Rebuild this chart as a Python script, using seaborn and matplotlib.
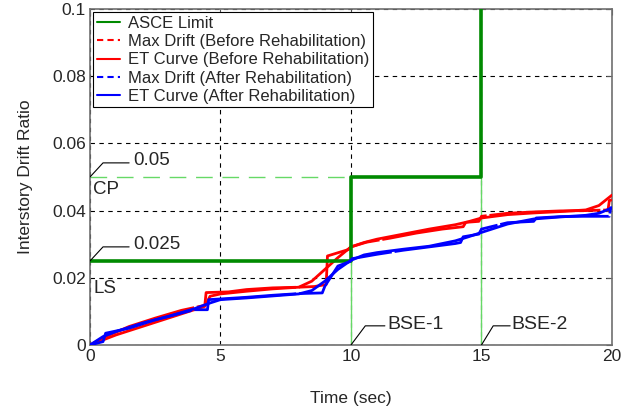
import numpy as np
import pandas as pd
import matplotlib
matplotlib.use("Agg")
import matplotlib.pyplot as plt
import seaborn as sns

# ASCE limit step (Time, drift)
asce_t = [0, 10, 10, 15, 15]
asce_v = [0.025, 0.025, 0.05, 0.05, 0.1]

# Before rehabilitation: ET curve
et_before_t = [0, 1, 2, 3, 4, 4.4, 4.6, 5, 6, 7, 8, 8.5, 9, 9.5, 10, 10.5, 11,
               12, 13, 14, 14.5, 15, 16, 17, 18, 19, 19.5, 20]
et_before_v = [0, 0.003, 0.0055, 0.008, 0.0105, 0.0115, 0.0145, 0.0152, 0.016,
               0.0167, 0.0172, 0.019, 0.0225, 0.026, 0.0292, 0.0305, 0.0315,
               0.033, 0.0345, 0.0358, 0.0367, 0.0378, 0.0388, 0.0393, 0.0397,
               0.0402, 0.0415, 0.0446]

# Before rehabilitation: max drift
md_before_t = [0, 0.6, 1.5, 2.5, 3.5, 4.4, 4.45, 5.3, 6.0, 7.0, 8.0, 8.6, 9.05,
               9.1, 9.9, 10.0, 10.6, 11.5, 12.5, 13.5, 14.3, 14.4, 14.9, 15.0,
               16.0, 17.0, 18.0, 19.0, 19.85, 19.9, 20.0]
md_before_v = [0, 0.0025, 0.0055, 0.008, 0.0103, 0.0118, 0.0156, 0.0158,
               0.0165, 0.017, 0.0172, 0.0174, 0.018, 0.0265, 0.0284, 0.0292,
               0.0306, 0.0318, 0.0333, 0.0345, 0.0352, 0.0365, 0.0368, 0.0383,
               0.0392, 0.0396, 0.0399, 0.04, 0.0402, 0.043, 0.0432]

# After rehabilitation: ET curve
et_after_t = [0, 0.5, 1, 2, 3, 4, 4.6, 5, 6, 7, 8, 8.5, 9, 9.5, 10, 10.5, 11,
              12, 13, 14, 14.5, 15, 16, 17, 18, 19, 19.5, 20]
et_after_v = [0, 0.0025, 0.004, 0.0065, 0.0085, 0.0108, 0.0125, 0.0135, 0.014,
              0.0146, 0.0152, 0.0162, 0.019, 0.0225, 0.0252, 0.0268, 0.0275,
              0.0285, 0.0294, 0.031, 0.0322, 0.0335, 0.036, 0.0375, 0.0381,
              0.0386, 0.0392, 0.0408]

# After rehabilitation: max drift
md_after_t = [0, 0.5, 0.6, 1.5, 2.5, 3.5, 4.0, 4.5, 4.55, 5.0, 6.0, 7.0, 8.0,
              8.9, 9.0, 9.5, 9.95, 10.05, 11, 12, 13, 14.0, 14.2, 14.3, 14.9,
              15.0, 16.0, 17.0, 17.1, 18.0, 18.9, 19.9, 19.95, 20]
md_after_v = [0, 0.001, 0.0035, 0.005, 0.0075, 0.0095, 0.0105, 0.0105, 0.0135,
              0.0137, 0.0142, 0.0148, 0.0153, 0.0155, 0.0175, 0.0235, 0.0248,
              0.0257, 0.027, 0.0282, 0.0292, 0.0302, 0.0305, 0.0322, 0.033,
              0.0345, 0.0364, 0.0368, 0.0378, 0.0382, 0.0383, 0.0383, 0.0408,
              0.041]

x_ticks = [0, 5, 10, 15, 20]
y_ticks = [0, 0.02, 0.04, 0.06, 0.08, 0.1]
y_tick_labels = ["0", "0.02", "0.04", "0.06", "0.08", "0.1"]

sns.set_style("white")
plt.rcParams["font.family"] = ["Liberation Sans", "DejaVu Sans"]
plt.rcParams["font.size"] = 12.5

fig = plt.figure(figsize=(6.27, 4.11), dpi=100)
ax = fig.add_axes([0.1435, 0.1606, 0.8325, 0.8175])

GREEN = "#008a00"
LIGHT = "#66d966"

# reference guide lines
ax.plot([0, 10], [0.05, 0.05], color=LIGHT, lw=1, dashes=(12, 7), zorder=2)
ax.plot([10, 10], [0, 0.025], color=LIGHT, lw=1, zorder=2)
ax.plot([15, 15], [0, 0.05], color=LIGHT, lw=1, zorder=2)


def draw(t, v, color, label, ls="-", lw=2.0, z=3):
    df = pd.DataFrame({"Time": t, "Drift": v})
    sns.lineplot(data=df, x="Time", y="Drift", color=color, lw=lw,
                 linestyle=ls, estimator=None, sort=False, ax=ax,
                 label=label, zorder=z)


draw(asce_t, asce_v, GREEN, "ASCE Limit", lw=2.6, z=4)
draw(md_before_t, md_before_v, "red", "Max Drift (Before Rehabilitation)",
     ls=(0, (40, 1)), lw=2.0)
draw(et_before_t, et_before_v, "red", "ET Curve (Before Rehabilitation)", lw=2.0)
draw(md_after_t, md_after_v, "blue", "Max Drift (After Rehabilitation)",
     ls=(0, (40, 1)), lw=2.0, z=5)
draw(et_after_t, et_after_v, "blue", "ET Curve (After Rehabilitation)", lw=2.0, z=5)

ax.set_xlim(0, 20)
ax.set_ylim(0, 0.1)
ax.set_xticks(x_ticks)
ax.set_xticklabels([str(x) for x in x_ticks])
ax.set_yticks(y_ticks)
ax.set_yticklabels(y_tick_labels)
ax.grid(True, color="black", linestyle=(0, (4, 4)), lw=0.8)
ax.set_axisbelow(True)
ax.tick_params(direction="in", length=4, color="#555555", labelsize=12.5,
               top=True, right=True, pad=3)
for s in ax.spines.values():
    s.set_color("#707070")
    s.set_linewidth(1.2)

ax.set_xlabel("Time (sec)", fontsize=12.5, labelpad=19)
ax.set_ylabel("Interstory Drift Ratio", fontsize=12.5, labelpad=14)

# annotations with leader lines
lk = dict(color="black", lw=0.8, zorder=6)
ax.plot([0, 0.5, 1.5], [0.05, 0.0542, 0.0542], **lk)
ax.text(1.65, 0.0548, "0.05", va="center", ha="left", fontsize=13.5)
ax.plot([0, 0.5, 1.5], [0.025, 0.0292, 0.0292], **lk)
ax.text(1.65, 0.0298, "0.025", va="center", ha="left", fontsize=13.5)
ax.text(0.12, 0.0462, "CP", va="center", ha="left", fontsize=13.5)
ax.text(0.12, 0.0168, "LS", va="center", ha="left", fontsize=13.5)
ax.plot([10, 10.55, 11.3], [0, 0.0057, 0.0057], **lk)
ax.text(11.4, 0.0060, "BSE-1", va="center", ha="left", fontsize=14)
ax.plot([15, 15.45, 16.1], [0, 0.0057, 0.0057], **lk)
ax.text(16.15, 0.0060, "BSE-2", va="center", ha="left", fontsize=14)

leg = ax.legend(loc="upper left", bbox_to_anchor=(0, 1), borderaxespad=0.2,
                fontsize=12, handlelength=1.4, handletextpad=0.5,
                labelspacing=0.2, borderpad=0.2, fancybox=False, framealpha=1)
leg.get_frame().set_edgecolor("black")
leg.get_frame().set_linewidth(0.8)
leg.set_zorder(10)
for h in leg.get_lines():
    h.set_linewidth(1.5)
# max-drift entries are shown as dashed keys
for i in (1, 3):
    leg.get_lines()[i].set_linestyle((0, (3, 2)))

fig.savefig("out.png", dpi=100)
